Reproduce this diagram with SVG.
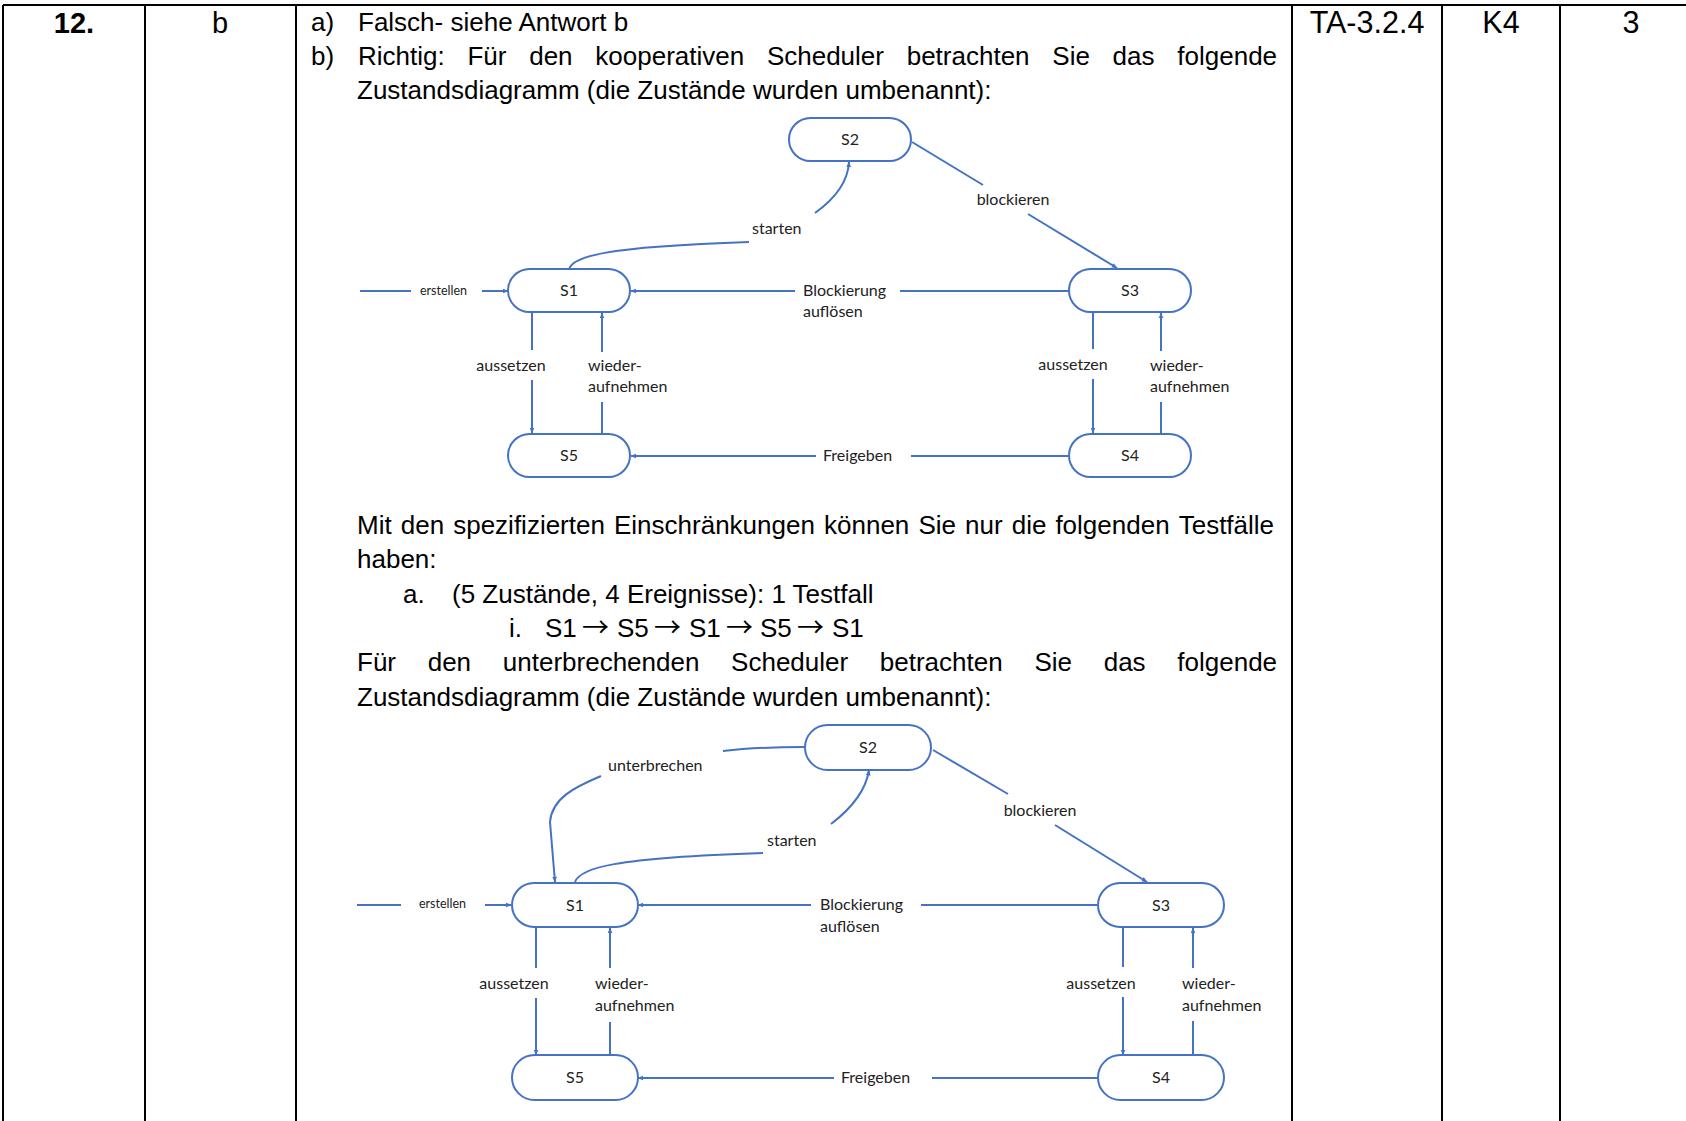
<svg xmlns="http://www.w3.org/2000/svg" width="1686" height="1121" viewBox="0 0 1686 1121">
<style>
.t{font-family:"Liberation Sans",Arial,sans-serif;font-size:26px;fill:#000}
.ar{font-family:"Noto Sans CJK JP","DejaVu Sans",sans-serif;font-size:27px}
.tc{font-family:"Liberation Sans",Arial,sans-serif;font-size:29px;fill:#000;text-anchor:middle}
.tc2{font-size:30.5px}
.b{font-weight:bold}
.grid{stroke:#000;stroke-width:2;fill:none}
.node rect{fill:#fff;stroke:#4472C4;stroke-width:2}
.nl{font-family:Lato,"Open Sans",sans-serif;font-size:16px;fill:#222;text-anchor:middle}
.lbl{font-family:Lato,"Open Sans",sans-serif;font-size:16px;fill:#222}
.sm{font-size:12.5px}
.mid{text-anchor:middle}
.c path{fill:none;stroke:#4472C4;stroke-width:2}
</style>
<defs>
<marker id="ah" viewBox="0 0 10 10" refX="9" refY="5" markerWidth="6" markerHeight="6" markerUnits="userSpaceOnUse" orient="auto">
<path d="M0,1 L10,5 L0,9 Z" fill="#4472C4"/>
</marker>
</defs>
<rect width="1686" height="1121" fill="#fff"/>

<g id="table" class="grid">
<line x1="3" y1="5" x2="1686" y2="5"/>
<line x1="3" y1="5" x2="3" y2="1121"/>
<line x1="145" y1="5" x2="145" y2="1121"/>
<line x1="296" y1="5" x2="296" y2="1121"/>
<line x1="1292" y1="5" x2="1292" y2="1121"/>
<line x1="1442" y1="5" x2="1442" y2="1121"/>
<line x1="1560" y1="5" x2="1560" y2="1121"/>
</g>

<g id="cells">
<text class="tc b" x="74" y="33">12.</text>
<text class="tc" x="220" y="33">b</text>
<text class="tc tc2" x="1367" y="33">TA-3.2.4</text>
<text class="tc tc2" x="1501" y="33">K4</text>
<text class="tc tc2" x="1631" y="33">3</text>
</g>

<g id="body">
<text class="t" x="311" y="31">a)</text>
<text class="t" x="358" y="31">Falsch- siehe Antwort b</text>
<text class="t" x="311" y="65">b)</text>
<text class="t" y="65"><tspan x="358">Richtig:</tspan><tspan x="467.4">Für</tspan><tspan x="529.2">den</tspan><tspan x="595.3">kooperativen</tspan><tspan x="766.9">Scheduler</tspan><tspan x="906.7">betrachten</tspan><tspan x="1052.3">Sie</tspan><tspan x="1112.6">das</tspan><tspan x="1177.3">folgende</tspan></text>
<text class="t" x="357" y="99">Zustandsdiagramm (die Zustände wurden umbenannt):</text>
<text class="t" y="534"><tspan x="357">Mit</tspan><tspan x="400.75">den</tspan><tspan x="453.2">spezifizierten</tspan><tspan x="614">Einschränkungen</tspan><tspan x="824">können</tspan><tspan x="918.4">Sie</tspan><tspan x="965">nur</tspan><tspan x="1011.7">die</tspan><tspan x="1055.4">folgenden</tspan><tspan x="1178.7">Testfälle</tspan></text>
<text class="t" x="357" y="568">haben:</text>
<text class="t" x="403" y="603">a.</text>
<text class="t" x="452" y="603">(5 Zustände, 4 Ereignisse): 1 Testfall</text>
<text class="t" x="509" y="637">i.</text>
<text class="t" y="637"><tspan x="545">S1</tspan><tspan class="ar" x="582">→</tspan><tspan x="617">S5</tspan><tspan class="ar" x="654">→</tspan><tspan x="689">S1</tspan><tspan class="ar" x="726">→</tspan><tspan x="760">S5</tspan><tspan class="ar" x="797">→</tspan><tspan x="832">S1</tspan></text>
<text class="t" y="671"><tspan x="357">Für</tspan><tspan x="427.7">den</tspan><tspan x="502.8">unterbrechenden</tspan><tspan x="731.1">Scheduler</tspan><tspan x="879.8">betrachten</tspan><tspan x="1034.4">Sie</tspan><tspan x="1103.7">das</tspan><tspan x="1177.3">folgende</tspan></text>
<text class="t" x="357" y="706">Zustandsdiagramm (die Zustände wurden umbenannt):</text>
</g>

<!-- Diagram 1 connectors -->
<g id="connectors1" class="c">
<path d="M360,291 L411,291"/>
<path d="M482,291 L508,291" marker-end="url(#ah)"/>
<path d="M569,269 C573,257 600,247 749,242"/>
<path d="M815,213 C836,198 848,181 849,162" marker-end="url(#ah)"/>
<path d="M912,142 L983,185"/>
<path d="M1028,214 L1117,268" marker-end="url(#ah)"/>
<path d="M795,291 L631,291" marker-end="url(#ah)"/>
<path d="M900,291 L1069,291"/>
<path d="M532,312 L532,350"/>
<path d="M532,380 L532,433" marker-end="url(#ah)"/>
<path d="M602,434 L602,402"/>
<path d="M602,352 L602,313" marker-end="url(#ah)"/>
<path d="M1093,312 L1093,349"/>
<path d="M1093,379 L1093,433" marker-end="url(#ah)"/>
<path d="M1161,436 L1161,402"/>
<path d="M1161,351 L1161,313" marker-end="url(#ah)"/>
<path d="M816,456 L631,456" marker-end="url(#ah)"/>
<path d="M911,456 L1069,456"/>
</g>
<g id="labels1">
<text class="lbl sm" x="420" y="295">erstellen</text>
<text class="lbl" x="752" y="234">starten</text>
<text class="lbl mid" x="1013" y="205">blockieren</text>
<text class="lbl" x="803" y="296">Blockierung</text>
<text class="lbl" x="803" y="317">auflösen</text>
<text class="lbl mid" x="511" y="371">aussetzen</text>
<text class="lbl" x="588" y="371">wieder-</text>
<text class="lbl" x="588" y="392">aufnehmen</text>
<text class="lbl mid" x="1073" y="370">aussetzen</text>
<text class="lbl" x="1150" y="371">wieder-</text>
<text class="lbl" x="1150" y="392">aufnehmen</text>
<text class="lbl" x="823" y="461">Freigeben</text>
</g>
<g id="d1-S2" class="node"><rect x="789" y="118" width="122" height="43" rx="21.5"/><text class="nl" x="850" y="145">S2</text></g>
<g id="d1-S1" class="node"><rect x="508" y="269" width="122" height="43" rx="21.5"/><text class="nl" x="569" y="296">S1</text></g>
<g id="d1-S3" class="node"><rect x="1069" y="269" width="122" height="43" rx="21.5"/><text class="nl" x="1130" y="296">S3</text></g>
<g id="d1-S5" class="node"><rect x="508" y="434" width="122" height="43" rx="21.5"/><text class="nl" x="569" y="461">S5</text></g>
<g id="d1-S4" class="node"><rect x="1069" y="434" width="122" height="43" rx="21.5"/><text class="nl" x="1130" y="461">S4</text></g>

<!-- Diagram 2 connectors -->
<g id="connectors2" class="c">
<path d="M357,905 L401,905"/>
<path d="M485,905 L511,905" marker-end="url(#ah)"/>
<path d="M804,747 C770,747 740,749 723,751"/>
<path d="M601,776 C575,787 552,798 550,822 L555,882" marker-end="url(#ah)"/>
<path d="M575,882 C580,868 612,858 763,853"/>
<path d="M831,824 C852,808 866,790 869,770" marker-end="url(#ah)"/>
<path d="M933,750 L1008,794"/>
<path d="M1055,825 L1147,882" marker-end="url(#ah)"/>
<path d="M811,905 L638,905" marker-end="url(#ah)"/>
<path d="M921,905 L1097,905"/>
<path d="M536,927 L536,968"/>
<path d="M536,998 L536,1055" marker-end="url(#ah)"/>
<path d="M610,1055 L610,1022"/>
<path d="M610,968 L610,928" marker-end="url(#ah)"/>
<path d="M1123,927 L1123,967"/>
<path d="M1123,997 L1123,1055" marker-end="url(#ah)"/>
<path d="M1193,1058 L1193,1021"/>
<path d="M1193,968 L1193,928" marker-end="url(#ah)"/>
<path d="M834,1078 L638,1078" marker-end="url(#ah)"/>
<path d="M932,1078 L1097,1078"/>
</g>
<g id="labels2">
<text class="lbl sm" x="419" y="908">erstellen</text>
<text class="lbl" x="608" y="771">unterbrechen</text>
<text class="lbl" x="767" y="846">starten</text>
<text class="lbl mid" x="1040" y="816">blockieren</text>
<text class="lbl" x="820" y="910">Blockierung</text>
<text class="lbl" x="820" y="932">auflösen</text>
<text class="lbl mid" x="514" y="989">aussetzen</text>
<text class="lbl" x="595" y="989">wieder-</text>
<text class="lbl" x="595" y="1011">aufnehmen</text>
<text class="lbl mid" x="1101" y="989">aussetzen</text>
<text class="lbl" x="1182" y="989">wieder-</text>
<text class="lbl" x="1182" y="1011">aufnehmen</text>
<text class="lbl" x="841" y="1083">Freigeben</text>
</g>
<g id="d2-S2" class="node"><rect x="805" y="725" width="126" height="45" rx="22.5"/><text class="nl" x="868" y="753">S2</text></g>
<g id="d2-S1" class="node"><rect x="512" y="883" width="126" height="44" rx="22"/><text class="nl" x="575" y="911">S1</text></g>
<g id="d2-S3" class="node"><rect x="1098" y="883" width="126" height="44" rx="22"/><text class="nl" x="1161" y="911">S3</text></g>
<g id="d2-S5" class="node"><rect x="512" y="1055" width="126" height="45" rx="22.5"/><text class="nl" x="575" y="1083">S5</text></g>
<g id="d2-S4" class="node"><rect x="1098" y="1055" width="126" height="45" rx="22.5"/><text class="nl" x="1161" y="1083">S4</text></g>
</svg>
